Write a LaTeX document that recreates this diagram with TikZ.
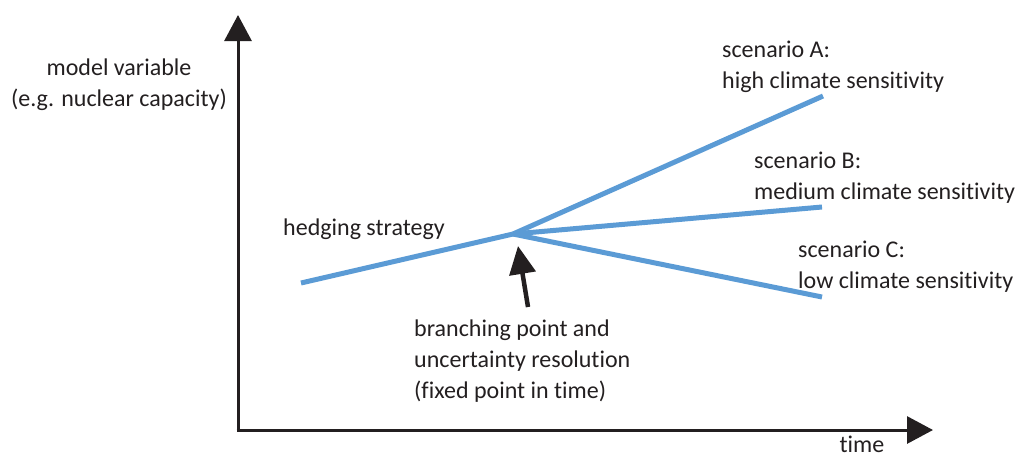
\documentclass[tikz,border=0pt]{standalone}
\usepackage{fontspec}
\setmainfont{Carlito}[Ligatures={NoCommon}]
\usetikzlibrary{arrows.meta}
\definecolor{lineblue}{RGB}{91,155,213}
\definecolor{axisblack}{RGB}{35,31,32}
\tikzset{
  axis/.style={draw=axisblack, line width=3pt, -{Triangle[length=26pt,width=27pt]}},
  pointer/.style={draw=axisblack, line width=4.5pt, -{Triangle[length=28pt,width=26pt]}},
  branch/.style={draw=lineblue, line width=5pt},
  lbl/.style={inner sep=0pt, anchor=base west, text=axisblack, font=\fontsize{24}{30}\selectfont},
  lblc/.style={lbl, anchor=base}
}
\begin{document}
\begin{tikzpicture}[x=1pt,y=-1pt]
\useasboundingbox (0,0) rectangle (1016,459);
% axes
\coordinate (origin) at (238,430);
\coordinate (ytip) at (238,15);
\coordinate (xtip) at (933,430);
\draw[axis] (origin) -- (ytip);
\draw[axis] ([xshift=-1.5pt]origin) -- (xtip);
% branches
\coordinate (start) at (301,283);
\coordinate (bp) at (513,234);
\coordinate (endA) at (823,96);
\coordinate (endB) at (822,207);
\coordinate (endC) at (822,297);
\draw[branch] (start) -- (bp);
\draw[branch] (bp) -- (endA);
\draw[branch] (bp) -- (endB);
\draw[branch] (bp) -- (endC);
% pointer
\coordinate (ptail) at (528,307);
\coordinate (phead) at (518,246);
\draw[pointer] (ptail) -- (phead);
% labels
\node[lblc] (yl1) at (119,75) {model variable};
\node[lblc] (yl2) at (119,106) {(e.g. nuclear capacity)};
\node[lbl] (hedge) at (283,235) {hedging strategy};
\node[lbl] (sa1) at (722,57) {scenario A:};
\node[lbl] (sa2) at (722,88) {high climate sensitivity};
\node[lbl] (sb1) at (754,168) {scenario B:};
\node[lbl] (sb2) at (754,199) {medium climate sensitivity};
\node[lbl] (sc1) at (798,257) {scenario C:};
\node[lbl] (sc2) at (798,288) {low climate sensitivity};
\node[lbl] (bp1) at (414,336) {branching point and};
\node[lbl] (bp2) at (414,367) {uncertainty resolution};
\node[lbl] (bp3) at (414,398) {(fixed point in time)};
\node[lblc] (tl) at (862,452) {time};
\end{tikzpicture}
\end{document}
